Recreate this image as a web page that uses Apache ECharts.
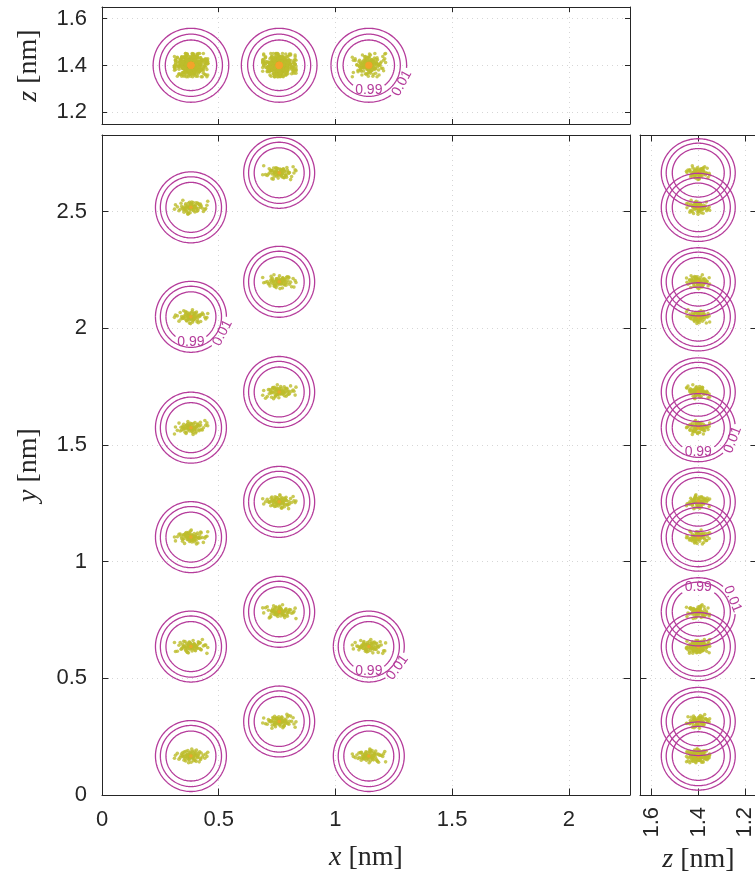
<!DOCTYPE html>
<html><head><meta charset="utf-8">
<script src="https://cdn.jsdelivr.net/npm/echarts@6/dist/echarts.min.js"></script>
<style>html,body{margin:0;padding:0;background:#fff}#c{width:755px;height:873px}</style>
</head><body><div id="c"></div><script>
// ---------------- data ----------------
const xRange = [0, 2.262];
const yRange = [0, 2.828];
const zRange = [1.15, 1.65];
const xyTickStep = 0.5;

// atom centres (nm)
const atomX = [0.381,0.381,0.381,0.381,0.381,0.381, 0.759,0.759,0.759,0.759,0.759,0.759, 1.143,1.143];
const atomY = [0.167,0.636,1.105,1.574,2.049,2.518, 0.315,0.785,1.256,1.727,2.199,2.666, 0.167,0.636];
const atomZ = [1.401,1.401,1.401,1.401,1.401,1.401, 1.401,1.401,1.401,1.401,1.401,1.401, 1.401,1.401];

// half-extent of each sample cloud along x, y, z (nm)
const cloudSpread = [0.072, 0.032, 0.053];
// sampled positions within a cloud, relative to its centre (units of cloudSpread)
const cloudShape = [
 [-0.92,0.10,-0.35],[-0.71,-0.42,0.22],[-0.55,0.31,0.64],[-0.43,-0.12,-0.58],[-0.38,0.55,0.05],
 [-0.31,-0.66,0.41],[-0.27,0.18,-0.19],[-0.22,-0.28,0.83],[-0.18,0.72,-0.47],[-0.15,0.02,0.12],
 [-0.11,-0.51,-0.08],[-0.08,0.39,0.36],[-0.05,-0.17,-0.72],[-0.02,0.26,0.58],[0.01,-0.84,-0.27],
 [0.04,0.08,0.02],[0.07,0.61,-0.39],[0.10,-0.33,0.27],[0.13,0.44,0.91],[0.16,-0.07,-0.52],
 [0.20,0.22,0.14],[0.24,-0.58,-0.15],[0.28,0.05,0.47],[0.33,0.81,-0.06],[0.39,-0.24,-0.88],
 [0.46,0.35,0.31],[0.58,-0.45,0.09],[0.74,0.14,-0.31],[0.95,-0.05,0.18],[-0.64,-0.21,0.03],
 [-0.48,0.47,-0.24],[-0.35,-0.38,0.52],[-0.25,0.09,-0.41],[-0.14,-0.91,0.19],[-0.03,0.53,-0.13],
 [0.09,-0.15,0.68],[0.19,0.68,0.25],[0.31,-0.71,-0.36],[0.44,0.12,-0.65],[0.61,0.41,0.44],
 [0.83,-0.29,-0.02],[-0.81,0.36,0.29],[-0.50,-0.02,-0.79],[-0.29,0.64,0.71],[-0.12,-0.44,0.38],
 [0.02,0.19,-0.33],[0.15,-0.62,0.06],[0.27,0.31,-0.21],[0.41,-0.09,0.61],[0.52,0.58,-0.44],
 [0.68,-0.13,0.34],[-0.59,0.04,0.48],[-0.41,-0.55,-0.11],[-0.20,0.28,0.16],[-0.06,-0.26,-0.04],
 [0.05,0.95,0.07],[0.22,-0.36,-0.68],[0.36,0.02,0.11],[0.49,-0.78,0.23],[0.88,0.27,-0.17],
 [-0.33,-0.06,0.95],[-0.17,0.13,-0.92],[0.12,-0.19,0.41],[0.30,0.49,0.02],[-0.45,0.21,-0.12],
 [0.56,-0.31,-0.49],[-0.09,0.06,0.26],[0.06,-0.09,-0.23],[-0.24,-0.10,0.08],[0.18,0.04,-0.09],
 [1.00,0.50,0.30],[-0.98,-0.30,-0.20]
];
// per-atom pairing offsets of the y and z columns of cloudShape (so overlapping clouds differ)
const cloudPairY = [0, 5, 10, 15, 20, 25, 30, 35, 40, 45, 50, 55, 60, 65];
const cloudPairZ = [0, 11, 22, 33, 44, 55, 66, 7, 18, 29, 40, 51, 62, 3];

// contour radii (nm) for the three levels, per projection
const ringXY_x = [0.107, 0.131, 0.152], ringXY_y = [0.107, 0.131, 0.152];
const ringXZ_x = [0.110, 0.135, 0.162], ringXZ_z = [0.108, 0.133, 0.158];
const ringZY_z = [0.111, 0.137, 0.158], ringZY_y = [0.104, 0.127, 0.146];

// contour labels: view, atom index, ring (0 inner .. 2 outer), angle on ring (deg, screen), text
const labelView  = ['xy','xy','xy','xy','xz','xz','zy','zy','zy','zy'];
const labelAtom  = [4, 4, 13, 13, 12, 12, 3, 3, 7, 7];
const labelRing  = [0, 2, 0, 2, 0, 2, 0, 2, 0, 2];
const labelAngle = [-90, -27, -90, -36, -90, -29, -90, -21, 90, 22];
const labelText  = ['0.99','0.01','0.99','0.01','0.99','0.01','0.99','0.01','0.99','0.01'];

// ---------------- styling ----------------
const AX = '#262626', TXT = '#262626', GRIDC = '#d6d6d6';
const RING = '#b53c9b', CLOUD = '#bdbd2c', CORE = '#f2a22a';
const SANS = '"Liberation Sans", Arial, sans-serif';
const SERIF = '"Liberation Serif", "DejaVu Serif", serif';

function buildView(ia, ib) {
  const cols = [atomX, atomY, atomZ];
  const centers = [], atomToCenter = [], seen = {};
  for (let i = 0; i < atomX.length; i++) {
    const a = cols[ia][i], b = cols[ib][i], key = a.toFixed(3) + '_' + b.toFixed(3);
    if (!(key in seen)) { seen[key] = centers.length; centers.push([a, b]); }
    atomToCenter.push(seen[key]);
  }
  const pts = [], cores = [], n = cloudShape.length;
  for (let i = 0; i < atomX.length; i++) {
    const a = cols[ia][i], b = cols[ib][i];
    cores.push([a, b]);
    for (let j = 0; j < n; j++) {
      const off = [cloudShape[j][0], cloudShape[(j + cloudPairY[i]) % n][1], cloudShape[(j + cloudPairZ[i]) % n][2]];
      pts.push([a + off[ia] * cloudSpread[ia], b + off[ib] * cloudSpread[ib]]);
    }
  }
  return {centers, atomToCenter, pts, cores};
}
const views = { xz: buildView(0, 2), xy: buildView(0, 1), zy: buildView(2, 1) };

function viewLabels(name) {
  const v = views[name], out = [];
  for (let i = 0; i < labelView.length; i++) if (labelView[i] === name)
    out.push({center: v.atomToCenter[labelAtom[i]], ring: labelRing[i], angle: labelAngle[i], text: labelText[i]});
  return out;
}

function wrap(d) { while (d > Math.PI) d -= 2 * Math.PI; while (d < -Math.PI) d += 2 * Math.PI; return d; }

function ringRenderer(rA, rB, labels) {
  return function (params, api) {
    const ci = params.dataIndex;
    const a = api.value(0), b = api.value(1);
    const c = api.coord([a, b]);
    const children = [];
    const lineStyle = {stroke: RING, fill: 'none', lineWidth: 1.3};
    for (let k = 0; k < rA.length; k++) {
      const s = api.size([rA[k], rB[k]], [a, b]);
      const rx = Math.abs(s[0]), ry = Math.abs(s[1]);
      const gaps = [];
      labels.forEach(L => {
        if (L.center === ci && L.ring === k) {
          const th = L.angle * Math.PI / 180;
          const px = c[0] + rx * Math.cos(th), py = c[1] - ry * Math.sin(th);
          const rr = Math.sqrt(Math.pow(rx * Math.cos(th), 2) + Math.pow(ry * Math.sin(th), 2));
          gaps.push([th, 16 / rr]);
          let rot = L.angle + 90; if (rot > 90) rot -= 180;
          children.push({
            type: 'text', x: px, y: py, rotation: rot * Math.PI / 180,
            style: { text: L.text, fill: RING, font: '14px ' + SANS,
              align: 'center', verticalAlign: 'middle', textAlign: 'center', textVerticalAlign: 'middle' }
          });
        }
      });
      let seg = [];
      const N = 180;
      for (let j = 0; j <= N; j++) {
        const t = -Math.PI + 2 * Math.PI * j / N;
        if (gaps.some(g => Math.abs(wrap(t - g[0])) <= g[1])) {
          if (seg.length > 1) children.push({type: 'polyline', shape: {points: seg}, style: lineStyle});
          seg = []; continue;
        }
        seg.push([c[0] + rx * Math.cos(t), c[1] - ry * Math.sin(t)]);
      }
      if (seg.length > 1) children.push({type: 'polyline', shape: {points: seg}, style: lineStyle});
    }
    return {type: 'group', children};
  };
}

const nameStyle = { fontFamily: SERIF, fontSize: 28, color: TXT,
  rich: { i: { fontFamily: SERIF, fontStyle: 'italic', fontSize: 28, color: TXT } } };
const zFmt = v => (Math.abs(v * 5 - Math.round(v * 5)) < 1e-6 ? v.toFixed(1) : '');

function axis(o) {
  const base = {
    type: 'value', gridIndex: o.grid, min: o.range[0], max: o.range[1], position: o.pos,
    inverse: !!o.inverse,
    axisLine: { show: true, onZero: false, lineStyle: { color: AX, width: 1 } },
    axisTick: { show: true, inside: true, length: o.tick, lineStyle: { color: AX, width: 1 } },
    axisLabel: { show: !!o.labels, fontFamily: SANS, fontSize: 22, color: TXT, margin: o.margin || 14,
      showMinLabel: o.showMin !== false, showMaxLabel: false, rotate: o.rotate || 0, formatter: o.fmt },
    splitLine: { show: !!o.split, lineStyle: { color: GRIDC, width: 1, type: [1, 4] } }
  };
  if (o.interval) base.interval = o.interval; else base.splitNumber = 3;
  if (o.name) { base.name = o.name; base.nameLocation = 'middle'; base.nameGap = o.gap; base.nameTextStyle = nameStyle; }
  return base;
}

const chart = echarts.init(document.getElementById('c'), null, { renderer: 'canvas', width: 755, height: 873 });
chart.setOption({
  animation: false,
  backgroundColor: '#fff',
  grid: [
    { left: 102, top: 7, width: 528, height: 117, outerBoundsMode: 'none', containLabel: false },
    { left: 102, top: 135, width: 528, height: 660, outerBoundsMode: 'none', containLabel: false },
    { left: 640, top: 135, width: 117, height: 660, outerBoundsMode: 'none', containLabel: false }
  ],
  xAxis: [
    axis({grid: 0, range: xRange, pos: 'bottom', tick: 5, interval: xyTickStep, split: true}),
    axis({grid: 0, range: xRange, pos: 'top', tick: 5, interval: xyTickStep}),
    axis({grid: 1, range: xRange, pos: 'bottom', tick: 6.5, interval: xyTickStep, split: true, labels: true,
          name: '{i|x} [nm]', gap: 49}),
    axis({grid: 1, range: xRange, pos: 'top', tick: 6.5, interval: xyTickStep}),
    axis({grid: 2, range: zRange, pos: 'bottom', tick: 6.5, inverse: true, split: true, labels: true,
          rotate: 90, fmt: zFmt, margin: 12, name: '{i|z} [nm]', gap: 49}),
    axis({grid: 2, range: zRange, pos: 'top', tick: 6.5, inverse: true})
  ],
  yAxis: [
    axis({grid: 0, range: zRange, pos: 'left', tick: 5, split: true, labels: true, fmt: zFmt, margin: 15,
          name: '{i|z} [nm]', gap: 59}),
    axis({grid: 0, range: zRange, pos: 'right', tick: 5}),
    axis({grid: 1, range: yRange, pos: 'left', tick: 6.5, interval: xyTickStep, split: true, labels: true, margin: 15,
          name: '{i|y} [nm]', gap: 59}),
    axis({grid: 1, range: yRange, pos: 'right', tick: 6.5, interval: xyTickStep}),
    axis({grid: 2, range: yRange, pos: 'left', tick: 6.5, interval: xyTickStep, split: true}),
    axis({grid: 2, range: yRange, pos: 'right', tick: 6.5, interval: xyTickStep})
  ],
  series: [
    { type: 'scatter', xAxisIndex: 0, yAxisIndex: 0, data: views.xz.pts, symbolSize: 3.5, itemStyle: { color: CLOUD }, silent: true, z: 2 },
    { type: 'scatter', xAxisIndex: 2, yAxisIndex: 2, data: views.xy.pts, symbolSize: 3.6, itemStyle: { color: CLOUD }, silent: true, z: 2 },
    { type: 'scatter', xAxisIndex: 4, yAxisIndex: 4, data: views.zy.pts, symbolSize: 3.5, itemStyle: { color: CLOUD }, silent: true, z: 2 },
    { type: 'scatter', xAxisIndex: 0, yAxisIndex: 0, data: views.xz.cores, symbolSize: 7, itemStyle: { color: CORE, opacity: 0.8 }, silent: true, z: 3 },
    { type: 'scatter', xAxisIndex: 2, yAxisIndex: 2, data: views.xy.cores, symbolSize: 3.5, itemStyle: { color: CORE }, silent: true, z: 3 },
    { type: 'scatter', xAxisIndex: 4, yAxisIndex: 4, data: views.zy.cores, symbolSize: 3.5, itemStyle: { color: CORE }, silent: true, z: 3 },
    { type: 'custom', xAxisIndex: 0, yAxisIndex: 0, data: views.xz.centers, renderItem: ringRenderer(ringXZ_x, ringXZ_z, viewLabels('xz')), silent: true, z: 4 },
    { type: 'custom', xAxisIndex: 2, yAxisIndex: 2, data: views.xy.centers, renderItem: ringRenderer(ringXY_x, ringXY_y, viewLabels('xy')), silent: true, z: 4 },
    { type: 'custom', xAxisIndex: 4, yAxisIndex: 4, data: views.zy.centers, renderItem: ringRenderer(ringZY_z, ringZY_y, viewLabels('zy')), silent: true, z: 4 }
  ]
});
</script></body></html>
